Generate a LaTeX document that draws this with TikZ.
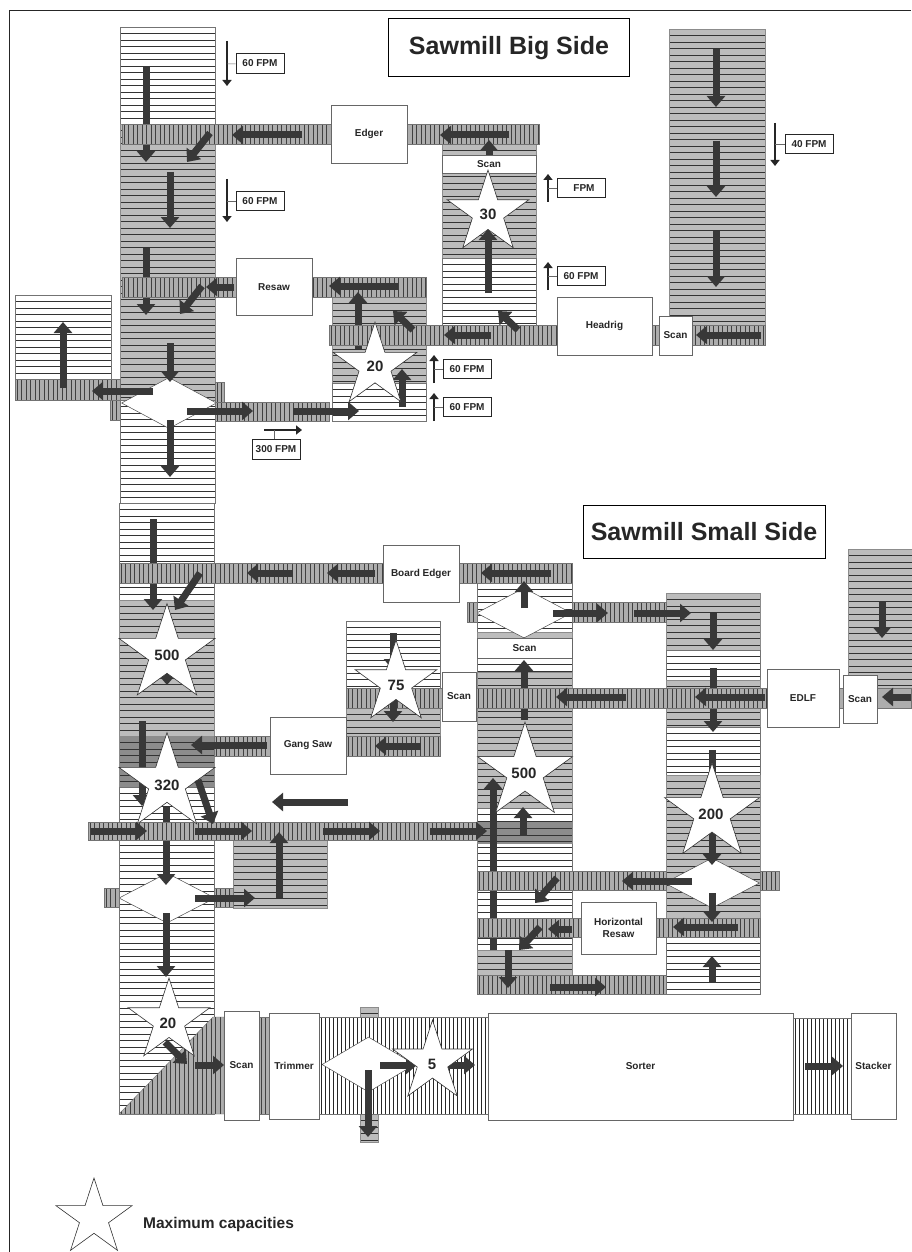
\documentclass[tikz,border=0pt]{standalone}
\usepackage{fontspec}
\setmainfont{Liberation Sans}
\usetikzlibrary{arrows.meta,shapes.geometric}
\definecolor{flowgray}{HTML}{383838}
\definecolor{rowgray}{HTML}{BCBCBC}
\definecolor{deepgray}{HTML}{8C8C8C}
\definecolor{beltgray}{HTML}{ADADAD}

\begin{document}
\begin{tikzpicture}[
    x=1pt, y=-1pt,
    rowlines/.style={path picture={\foreach \k in {1,...,50} \draw[line width=.65pt, black!80] ([yshift=-\k*6.5pt]path picture bounding box.north west) -- ([yshift=-\k*6.5pt]path picture bounding box.north east);}},
    beltlines/.style={path picture={\foreach \k in {0,...,110} \draw[line width=.75pt, black!75] ([xshift=\k*4.5pt+2pt]path picture bounding box.north west) -- ([xshift=\k*4.5pt+2pt]path picture bounding box.south west);}},
    openlines/.style={path picture={\foreach \k in {0,...,45} \draw[line width=.6pt, black!85] ([xshift=\k*4pt+2pt]path picture bounding box.north west) -- ([xshift=\k*4pt+2pt]path picture bounding box.south west);}},
    lightrow/.style={draw=black!55, line width=.4pt, fill=white, rowlines},
    darkrow/.style={draw=black!45, line width=.4pt, fill=rowgray, rowlines},
    deeprow/.style={draw=black!45, line width=.4pt, fill=deepgray, rowlines},
    belt/.style={draw=black!55, line width=.4pt, fill=beltgray, beltlines},
    openbelt/.style={draw=black!55, line width=.4pt, fill=white, openlines},
    machine/.style={rectangle, draw=black!60, line width=.6pt, fill=white, inner sep=0pt, align=center, font=\fontsize{10}{12.5}\selectfont\bfseries, text=black!85},
    maxstar/.style={star, star points=5, star point ratio=2.618, draw=black!80, line width=.6pt, fill=white, inner sep=0pt},
    starnum/.style={inner sep=0pt, font=\fontsize{15}{15}\selectfont\bfseries, text=black!85},
    junction/.style={diamond, shape aspect=1, draw=black!70, line width=.5pt, fill=white, inner sep=0pt},
    flow/.style={line width=7pt, draw=flowgray, -{Triangle[length=11pt,width=18pt]}},
    rate/.style={line width=2.4pt, draw=black!85, -{Triangle[length=6pt,width=9pt]}},
    ratetick/.style={draw=black!60, line width=.5pt},
    ratebox/.style={rectangle, draw=black!85, line width=.8pt, fill=white, minimum width=48pt, minimum height=19.5pt, inner sep=0pt, font=\fontsize{10}{12}\selectfont\bfseries, text=black!85},
    titlebox/.style={rectangle, draw=black, line width=1pt, fill=white, inner sep=0pt, font=\fontsize{25}{25}\selectfont\bfseries, text=black!85}
  ]
    \useasboundingbox (0,0) rectangle (911,1252);
    \fill[white] (0,0) rectangle (911,1252);

    % Page frame
    \draw[line width=1pt, draw=black!85] (9,1252) -- (9,11) -- (911,11);

    % Titles
    \node[titlebox, minimum width=241pt, minimum height=58pt] (bigtitle) at (509,48) {Sawmill Big Side};
    \node[titlebox, minimum width=242pt, minimum height=53pt] (smalltitle) at (704,532) {Sawmill Small Side};

    % Big side: rows
    \draw[lightrow] (120,27) rectangle (215,124);
    \draw[darkrow] (120,124) rectangle (215,400);
    \draw[lightrow] (120,400) rectangle (215,503);
    \draw[lightrow] (15,295) rectangle (111,379);
    \draw[darkrow] (332,297) rectangle (426,383);
    \draw[lightrow] (332,383) rectangle (426,421);
    \draw[darkrow] (442,144) rectangle (536,258);
    \draw[lightrow] (442,258) rectangle (536,325);
    \draw[darkrow] (669,29) rectangle (765,345);

    % Small side: rows
    \draw[lightrow] (119,503) rectangle (214,600);
    \draw[darkrow] (119,600) rectangle (214,736);
    \draw[deeprow] (119,736) rectangle (214,787);
    \draw[lightrow] (119,787) rectangle (214,1114);
    \draw[darkrow] (233,840) rectangle (327,908);
    \draw[lightrow] (346,621) rectangle (440,688);
    \draw[darkrow] (346,688) rectangle (440,736);
    \draw[lightrow] (477,583) rectangle (572,632);
    \draw[darkrow] (477,632) rectangle (572,660);
    \draw[lightrow] (477,658) rectangle (572,672);
    \draw[darkrow] (477,672) rectangle (572,808);
    \draw[lightrow] (477,808) rectangle (572,950);
    \draw[deeprow] (477,822) rectangle (572,843);
    \draw[darkrow] (477,950) rectangle (572,976);
    \draw[darkrow] (666,593) rectangle (760,650);
    \draw[lightrow] (666,650) rectangle (760,680);
    \draw[darkrow] (666,680) rectangle (760,727);
    \draw[lightrow] (666,727) rectangle (760,775);
    \draw[darkrow] (666,775) rectangle (760,937);
    \draw[lightrow] (666,937) rectangle (760,994);
    \draw[darkrow] (848,549) rectangle (925,688);

    % Sort line, left corner
    \draw[belt] (119,1114) -- (213,1017) -- (224,1017) -- (224,1114) -- cycle;

    % Junctions
    \node[junction, minimum width=95pt, minimum height=51pt] (bigsplit) at (169,403) {};
    \node[junction, minimum width=96pt, minimum height=50pt] (lowsplit) at (167,898) {};
    \node[junction, minimum width=95pt, minimum height=50pt] (midsplit) at (524,613) {};
    \node[junction, minimum width=95pt, minimum height=50pt] (rightsplit) at (712,883) {};

    % Flows that run under the belts
    \draw[flow] (146,66) -- (146,162);
    \draw[flow] (146,248) -- (146,315);
    \draw[flow] (153,519) -- (153,610);
    \draw[flow] (142,721) -- (142,806);
    \draw[flow] (166,807) -- (166,885);
    \draw[flow] (524,720) -- (524,660);
    \draw[flow] (493,950) -- (493,778);
    \draw[flow] (713,668) -- (713,732);
    \draw[flow] (712,750) -- (712,865);

    % Big side: belts
    \draw[belt] (122,124) rectangle (539,144);
    \draw[belt] (122,277) rectangle (426,297);
    \draw[flow] (358,349) -- (358,292);
    \draw[belt] (329,325) rectangle (765,345);
    \draw[belt] (15,379) rectangle (120,400);
    \draw[belt] (110,400) rectangle (120,420);
    \draw[belt] (215,382) rectangle (224,402);
    \draw[belt] (215,402) rectangle (329,421);

    % Small side: belts
    \draw[belt] (119,563) rectangle (572,583);
    \draw[belt] (214,736) rectangle (270,756);
    \draw[belt] (346,736) rectangle (440,756);
    \draw[belt] (88,822) rectangle (477,840);
    \draw[belt] (346,688) rectangle (911,708);
    \draw[belt] (467,602) rectangle (477,622);
    \draw[belt] (572,602) rectangle (666,622);
    \draw[belt] (104,888) rectangle (119,907);
    \draw[belt] (214,888) rectangle (233,907);
    \draw[belt] (477,871) rectangle (666,890);
    \draw[belt] (760,871) rectangle (779,890);
    \draw[belt] (477,918) rectangle (760,937);
    \draw[belt] (477,975) rectangle (666,994);

    % Big side: machines
    \node[machine, minimum width=76pt, minimum height=58pt] (edger) at (369,134) {Edger};
    \node[machine, minimum width=76pt, minimum height=57pt] (resaw) at (274,287) {Resaw};
    \node[machine, minimum width=94pt, minimum height=18pt] (scantop) at (489,164) {Scan};
    \node[machine, minimum width=95pt, minimum height=58pt] (headrig) at (604.5,326) {Headrig};
    \node[machine, minimum width=33pt, minimum height=39pt] (scanrig) at (675.5,335.5) {Scan};

    % Small side: machines
    \node[machine, minimum width=76pt, minimum height=57pt] (boardedger) at (421,573.5) {Board Edger};
    \node[machine, minimum width=76pt, minimum height=57pt] (gangsaw) at (308,745.5) {Gang Saw};
    \node[machine, minimum width=34pt, minimum height=49pt] (scangang) at (459,696.5) {Scan};
    \node[machine, minimum width=95pt, minimum height=20pt] (scanmid) at (524.5,648) {Scan};
    \node[machine, minimum width=72pt, minimum height=58pt] (edlf) at (803,698) {EDLF};
    \node[machine, minimum width=34pt, minimum height=48pt] (scanedlf) at (860,699) {Scan};
    \node[machine, minimum width=75pt, minimum height=52pt] (horizresaw) at (618.5,928) {Horizontal\\Resaw};

    % Big side: flows on top
    \draw[flow] (302,135) -- (232,135);
    \draw[flow] (210,133) -- (187,162);
    \draw[flow] (170,172) -- (170,228);
    \draw[flow] (234,287) -- (206,287);
    \draw[flow] (202,286) -- (180,314);
    \draw[flow] (170,343) -- (170,382);
    \draw[flow] (153,391) -- (92,391);
    \draw[flow] (63,388) -- (63,322);
    \draw[flow] (187,411) -- (253,411);
    \draw[flow] (293,411) -- (359,411);
    \draw[flow] (170,420) -- (170,477);
    \draw[flow] (398,286) -- (329,286);
    \draw[flow] (413,330) -- (393,311);
    \draw[flow] (402,407) -- (402,369);
    \draw[flow] (509,135) -- (440,135);
    \draw[flow] (489,155) -- (489,140);
    \draw[flow] (488,293) -- (488,229);
    \draw[flow] (518,330) -- (498,311);
    \draw[flow] (491,335) -- (444,335);
    \draw[flow] (761,335) -- (696,335);
    \draw[flow] (716,49) -- (716,107);
    \draw[flow] (716,141) -- (716,197);
    \draw[flow] (716,231) -- (716,287);

    % Small side: flows on top
    \draw[flow] (200,573) -- (175,610);
    \draw[flow] (293,573) -- (247,573);
    \draw[flow] (375,573) -- (327,573);
    \draw[flow] (551,573) -- (481,573);
    \draw[flow] (167,650) -- (167,685);
    \draw[flow] (267,745) -- (191,745);
    \draw[flow] (421,746) -- (375,746);
    \draw[flow] (393,633) -- (393,670);
    \draw[flow] (393,690) -- (393,722);
    \draw[flow] (348,802) -- (272,802);
    \draw[flow] (91,831) -- (147,831);
    \draw[flow] (195,831) -- (252,831);
    \draw[flow] (323,831) -- (380,831);
    \draw[flow] (430,831) -- (487,831);
    \draw[flow] (279,898) -- (279,832);
    \draw[flow] (195,898) -- (255,898);
    \draw[flow] (166,913) -- (166,977);
    \draw[flow] (524,608) -- (524,581);
    \draw[flow] (553,613) -- (608,613);
    \draw[flow] (634,613) -- (691,613);
    \draw[flow] (713,613) -- (713,650);
    \draw[flow] (765,697) -- (695,697);
    \draw[flow] (626,697) -- (556,697);
    \draw[flow] (523,836) -- (523,807);
    \draw[flow] (692,881) -- (622,881);
    \draw[flow] (557,878) -- (535,903);
    \draw[flow] (572,929) -- (548,929);
    \draw[flow] (540,927) -- (519,950);
    \draw[flow] (508,950) -- (508,988);
    \draw[flow] (550,987) -- (606,987);
    \draw[flow] (712,893) -- (712,922);
    \draw[flow] (738,927) -- (673,927);
    \draw[flow] (712,983) -- (712,956);
    \draw[flow] (882,601) -- (882,638);
    \draw[flow] (911,697) -- (882,697);

    % Sort line
    \draw[darkrow] (360,1007) rectangle (378,1017);
    \draw[darkrow] (360,1114) rectangle (378,1142);
    \draw[belt] (259,1017) rectangle (269,1114);
    \draw[openbelt] (319,1017) rectangle (488,1114);
    \draw[openbelt] (793,1018) rectangle (851,1114);
    \node[machine, minimum width=35pt, minimum height=109pt] (scansort) at (241.5,1065.5) {Scan};
    \node[machine, minimum width=50pt, minimum height=106pt] (trimmer) at (294,1066) {Trimmer};
    \node[machine, minimum width=305pt, minimum height=107pt] (sorter) at (640.5,1066.5) {Sorter};
    \node[machine, minimum width=45pt, minimum height=106pt] (stacker) at (873.5,1066) {Stacker};
    \node[junction, minimum width=93pt, minimum height=55pt] (sortsplit) at (368.5,1064.5) {};
    \draw[flow] (195,1065) -- (224,1065);
    \draw[flow] (380,1065) -- (417,1065);
    \draw[flow] (368,1070) -- (368,1137);
    \draw[flow] (448,1065) -- (475,1065);
    \draw[flow] (805,1066) -- (843,1066);

    % Maximum capacities
    \node[maxstar, minimum size=88pt] (capa) at (375,366) {};
    \node[maxstar, minimum size=86pt] (capb) at (488,213) {};
    \node[maxstar, minimum size=101pt] (capc) at (167,654) {};
    \node[maxstar, minimum size=101pt] (capd) at (167,783) {};
    \node[maxstar, minimum size=86pt] (cape) at (396,683) {};
    \node[maxstar, minimum size=100pt] (capf) at (525,772) {};
    \node[maxstar, minimum size=100pt] (capg) at (712,813) {};
    \node[maxstar, minimum size=86pt] (caph) at (169,1021) {};
    \node[maxstar, minimum size=84pt] (capi) at (432.5,1062) {};
    \node[starnum] (numa) at (375,366) {20};
    \node[starnum] (numb) at (488,214) {30};
    \node[starnum] (numc) at (167,655) {500};
    \node[starnum] (numd) at (167,785) {320};
    \node[starnum] (nume) at (396,685) {75};
    \node[starnum] (numf) at (524,773) {500};
    \node[starnum] (numg) at (711,814) {200};
    \node[starnum] (numh) at (168,1023) {20};
    \node[starnum] (numi) at (432,1064) {5};

    % Flows over the stars
    \draw[flow] (198,780) -- (213,824);
    \draw[flow] (165,1042) -- (187,1064);

    % Line speeds
    \coordinate (speeda) at (227,64);
    \coordinate (speedb) at (227,201);
    \coordinate (speedc) at (274,430);
    \coordinate (speedd) at (548,188);
    \coordinate (speede) at (548,276);
    \coordinate (speedf) at (434,369);
    \coordinate (speedg) at (434,407);
    \coordinate (speedh) at (775,144);
    \draw[rate] (227,41) -- (227,86);
    \draw[rate] (227,179) -- (227,222);
    \draw[rate] (264,430) -- (302,430);
    \draw[rate] (548,202) -- (548,174);
    \draw[rate] (548,290) -- (548,262);
    \draw[rate] (434,383) -- (434,355);
    \draw[rate] (434,421) -- (434,393);
    \draw[rate] (775,123) -- (775,166);
    \node[ratebox] (ratea) at (260,63.5) {60 FPM};
    \node[ratebox] (rateb) at (260,201) {60 FPM};
    \node[ratebox] (ratec) at (276,449.5) {300 FPM};
    \node[ratebox] (rated) at (581,188) {\hspace{6pt}FPM};
    \node[ratebox] (ratee) at (581,276) {60 FPM};
    \node[ratebox] (ratef) at (467,369) {60 FPM};
    \node[ratebox] (rateg) at (467,407) {60 FPM};
    \node[ratebox] (rateh) at (809,144) {40 FPM};
    \draw[ratetick] (ratea) -- (speeda);
    \draw[ratetick] (rateb) -- (speedb);
    \draw[ratetick] (ratec.north -| speedc) -- (speedc);
    \draw[ratetick] (rated) -- (speedd);
    \draw[ratetick] (ratee) -- (speede);
    \draw[ratetick] (ratef) -- (speedf);
    \draw[ratetick] (rateg) -- (speedg);
    \draw[ratetick] (rateh) -- (speedh);

    % Legend
    \node[star, star points=5, star point ratio=2.618, draw=black!80, line width=.6pt, minimum size=80pt, inner sep=0pt] (legendstar) at (94,1218) {};
    \node[right, inner sep=0pt, font=\fontsize{15.5}{15.5}\selectfont\bfseries, text=black!85] (legendtext) at (143,1224) {Maximum capacities};
  \end{tikzpicture}
\end{document}
